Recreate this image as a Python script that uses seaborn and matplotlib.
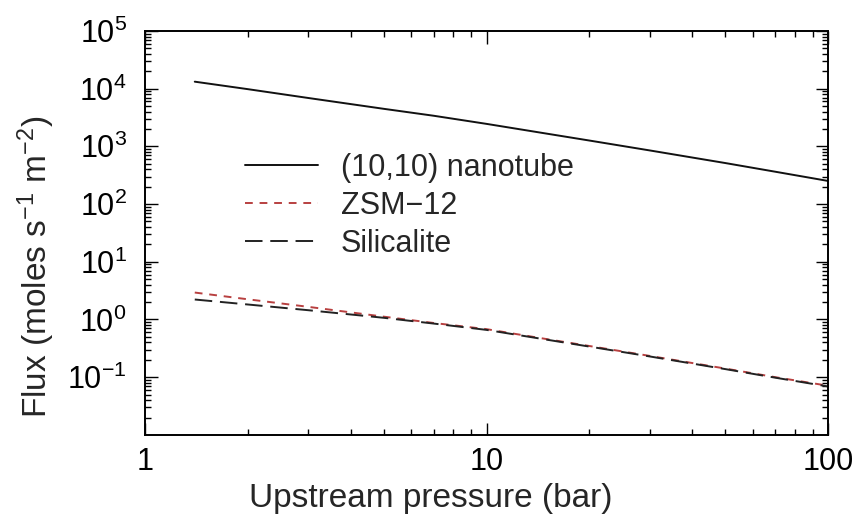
import numpy as np
import pandas as pd
import matplotlib
matplotlib.use("Agg")
import matplotlib.pyplot as plt
import seaborn as sns
from matplotlib.ticker import LogLocator, FixedLocator, NullFormatter, FixedFormatter

# Upstream pressure (bar)
pressure = [1.4, 2, 3, 5, 7, 10, 15, 20, 30, 50, 70, 100]
# Flux (moles s^-1 m^-2)
flux_nanotube = [13200, 9800, 6900, 4470, 3390, 2450, 1660, 1260, 850, 513, 363, 251]
flux_zsm12 = [2.93, 2.24, 1.66, 1.12, 0.87, 0.68, 0.457, 0.347, 0.234, 0.141, 0.100, 0.071]
flux_silicalite = [2.22, 1.82, 1.45, 1.07, 0.85, 0.66, 0.447, 0.339, 0.229, 0.138, 0.098, 0.069]

series_names = ["(10,10) nanotube", "ZSM\u221212", "Silicalite"]
x_ticks = [1, 10, 100]
x_tick_labels = ["1", "10", "100"]
y_exponents = [-1, 0, 1, 2, 3, 4, 5]

sns.set_style("ticks")
plt.rcParams["font.family"] = ["Liberation Sans", "DejaVu Sans"]
plt.rcParams["mathtext.fontset"] = "custom"
plt.rcParams["mathtext.rm"] = "Liberation Sans"
plt.rcParams["mathtext.it"] = "Liberation Sans"
plt.rcParams["mathtext.default"] = "regular"

df = pd.concat([
    pd.DataFrame({"pressure": pressure, "flux": flux_nanotube, "material": series_names[0]}),
    pd.DataFrame({"pressure": pressure, "flux": flux_zsm12, "material": series_names[1]}),
    pd.DataFrame({"pressure": pressure, "flux": flux_silicalite, "material": series_names[2]}),
])

fig = plt.figure(figsize=(8.62, 5.24), dpi=100)
ax = fig.add_axes([0.168, 0.170, 0.793, 0.771])

palette = {series_names[0]: "#111111", series_names[1]: "#b84040", series_names[2]: "#222222"}
dash_styles = {series_names[0]: "", series_names[1]: (4, 3.5), series_names[2]: (9, 4)}

sns.lineplot(data=df, x="pressure", y="flux", hue="material", style="material",
             palette=palette, dashes=dash_styles, linewidth=1.4, ax=ax, legend=False)

ax.set_xscale("log")
ax.set_yscale("log")
ax.set_xlim(1, 100)
ax.set_ylim(1e-2, 1e5)

ax.xaxis.set_major_locator(FixedLocator(x_ticks))
ax.xaxis.set_major_formatter(FixedFormatter(x_tick_labels))
ax.xaxis.set_minor_locator(LogLocator(base=10, subs=np.arange(2, 10)))
ax.xaxis.set_minor_formatter(NullFormatter())

y_major = [10.0 ** e for e in y_exponents]
ax.yaxis.set_major_locator(FixedLocator(y_major))
ax.yaxis.set_major_formatter(FixedFormatter([f"$10^{{{e}}}$" for e in y_exponents]))
ax.yaxis.set_minor_locator(LogLocator(base=10, subs=np.arange(2, 10), numticks=20))
ax.yaxis.set_minor_formatter(NullFormatter())

for s in ax.spines.values():
    s.set_visible(True)
    s.set_linewidth(1.4)
    s.set_color("black")

ax.tick_params(which="both", direction="in", top=True, right=True, colors="black",
               labelsize=22, width=1.0)
ax.tick_params(which="major", length=9)
ax.tick_params(axis="x", which="major", pad=9)
ax.tick_params(axis="y", which="major", pad=13)
ax.tick_params(which="minor", length=4.5)

ax.set_xlabel("Upstream pressure (bar)", fontsize=24)
ax.set_ylabel("Flux (moles s$^{-1}$ m$^{-2}$)", fontsize=24)
# Axis titles are centred on the canvas rather than on the plot frame
ax.xaxis.set_label_coords(0.419, -0.12)
ax.yaxis.set_label_coords(-0.129, 0.416)

# Legend: line samples with labels, no frame
handles = [
    plt.Line2D([], [], color=palette[series_names[0]], lw=1.4),
    plt.Line2D([], [], color=palette[series_names[1]], lw=1.4, dashes=(4, 3.5)),
    plt.Line2D([], [], color=palette[series_names[2]], lw=1.4, dashes=(9, 4)),
]
ax.legend(handles, series_names, loc="upper left", bbox_to_anchor=(0.146, 0.698),
          frameon=False, fontsize=22, handlelength=2.4, handletextpad=0.75,
          labelspacing=0.26, borderpad=0, borderaxespad=0)

fig.savefig("out.png", dpi=100, facecolor="white")
